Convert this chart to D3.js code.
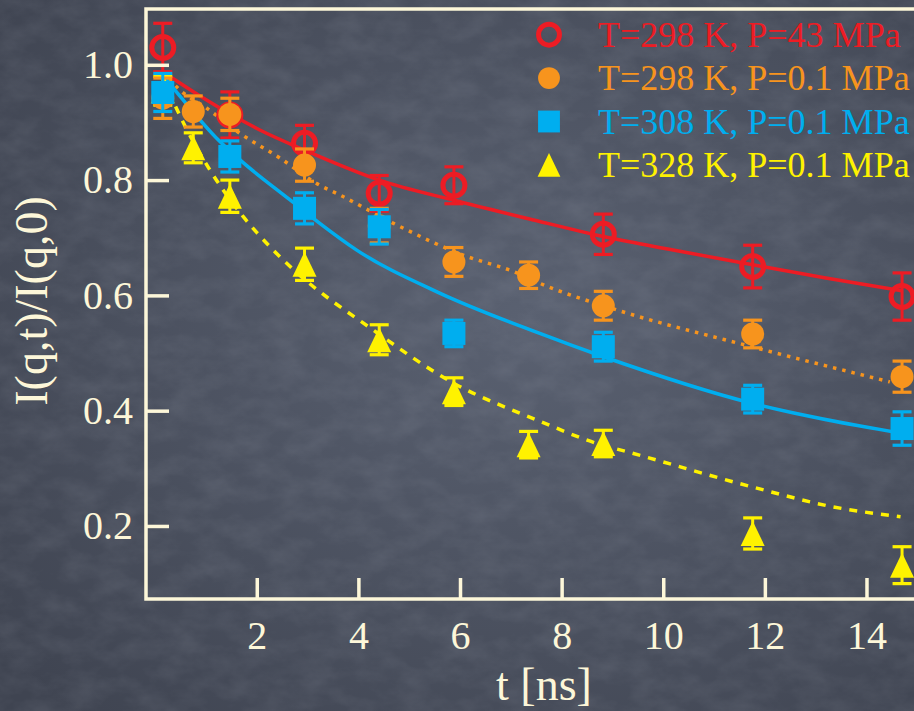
<!DOCTYPE html>
<html lang="en">

<head>
    <meta charset="UTF-8">
    <title>Intermediate scattering function</title>
    <style>
        body { margin: 0; background: #4c5260; }
        svg { display: block; }
    </style>
</head>

<body>
    <svg width="914" height="711"></svg>
    <script src="https://d3js.org/d3.v7.min.js"></script>
    <script>

        // measured times [ns]
        let times = [0.15, 0.75, 1.47, 2.94, 4.41, 5.88, 7.35, 8.82, 11.76, 14.7];

        // I(q,t)/I(q,0) and error, null = no point at that time
        let redVals = [1.03, null, 0.913, 0.864, 0.777, 0.791, null, 0.706, 0.650, 0.598];
        let redErr = [0.042, null, 0.040, 0.031, 0.031, 0.032, null, 0.035, 0.037, 0.041];
        let orangeVals = [0.942, 0.919, 0.914, 0.826, 0.721, 0.658, 0.635, 0.582, 0.533, 0.459];
        let orangeErr = [0.035, 0.027, 0.028, 0.028, 0.030, 0.025, 0.023, 0.025, 0.024, 0.027];
        let blueVals = [0.952, null, 0.841, 0.751, 0.719, 0.534, null, 0.511, 0.420, 0.369];
        let blueErr = [0.033, null, 0.027, 0.027, 0.030, 0.023, null, 0.025, 0.024, 0.029];
        let yellowVals = [0.955, 0.856, 0.772, 0.654, 0.523, 0.433, 0.341, 0.343, 0.187, 0.132];
        let yellowErr = [0.025, 0.026, 0.028, 0.028, 0.026, 0.024, 0.023, 0.023, 0.027, 0.032];

        // fit curves [t, value]
        let redFit = [[0.15, 0.988], [0.9, 0.945], [1.47, 0.915], [2.06, 0.887], [2.94, 0.852], [4.41, 0.800],
            [5.88, 0.765], [7.35, 0.733], [8.82, 0.702], [10.3, 0.677], [11.76, 0.653], [13.2, 0.630], [14.7, 0.608]];
        let orangeFit = [[0.15, 0.988], [0.49, 0.956], [1.01, 0.925], [1.67, 0.881], [2.46, 0.838], [3.18, 0.794],
            [3.64, 0.774], [4.69, 0.725], [6.06, 0.670], [7.12, 0.639], [7.57, 0.621], [9.08, 0.575],
            [11.74, 0.511], [14.46, 0.450]];
        let blueFit = [[0.15, 0.982], [0.55, 0.939], [1.24, 0.870], [1.67, 0.835], [2.65, 0.766], [3.24, 0.725],
            [3.96, 0.679], [5.60, 0.604], [7.57, 0.534], [8.81, 0.494], [11.74, 0.413], [14.68, 0.361]];
        let yellowFit = [[0.15, 0.979], [0.48, 0.913], [1.04, 0.823], [1.73, 0.737], [2.32, 0.679], [2.72, 0.645],
            [4.29, 0.540], [5.87, 0.448], [7.51, 0.384], [8.81, 0.340], [9.15, 0.332], [11.74, 0.268],
            [13.35, 0.233], [14.67, 0.216]];

        let legendLabels = ["T=298 K, P=43 MPa", "T=298 K, P=0.1 MPa", "T=308 K, P=0.1 MPa", "T=328 K, P=0.1 MPa"];
        let xTicks = [2, 4, 6, 8, 10, 12, 14];
        let yTicks = [0.2, 0.4, 0.6, 0.8, 1.0];


        let svg = d3.select("svg"),
            cream = "#fdf7d9",
            serif = "'Liberation Serif', 'Times New Roman', serif";

        let x = d3.scaleLinear().domain([-0.18, 15.25]).range([146, 930]);
        let y = d3.scaleLinear().domain([0.0733, 1.0968]).range([599, 9]);

        // chalkboard background
        let defs = svg.append("defs");
        let grad = defs.append("radialGradient").attr("id", "vig")
            .attr("cx", "58%").attr("cy", "45%").attr("r", "75%");
        grad.append("stop").attr("offset", "0%").attr("stop-color", "#5a6171");
        grad.append("stop").attr("offset", "100%").attr("stop-color", "#3f4451");
        let filt = defs.append("filter").attr("id", "chalk").attr("x", 0).attr("y", 0).attr("width", "100%").attr("height", "100%");
        filt.append("feTurbulence").attr("type", "fractalNoise").attr("baseFrequency", "0.03 0.05")
            .attr("numOctaves", 4).attr("seed", 7);
        filt.append("feColorMatrix").attr("type", "matrix")
            .attr("values", "0 0 0 0 0.55  0 0 0 0 0.58  0 0 0 0 0.65  0.9 0 0 0 -0.3");

        svg.append("rect").attr("width", 914).attr("height", 711).attr("fill", "url(#vig)");
        svg.append("rect").attr("width", 914).attr("height", 711).attr("filter", "url(#chalk)").attr("opacity", 0.2);

        // series setup
        let series = [
            { vals: redVals, err: redErr, fit: redFit, color: "#ed1c24", sym: "ring", dash: null },
            { vals: orangeVals, err: orangeErr, fit: orangeFit, color: "#f7941d", sym: "dot", dash: "3.5,6" },
            { vals: blueVals, err: blueErr, fit: blueFit, color: "#00aeef", sym: "square", dash: null },
            { vals: yellowVals, err: yellowErr, fit: yellowFit, color: "#fff200", sym: "tri", dash: "8,8" }
        ];

        function drawSymbol(g, kind, color, cx, cy, scale) {
            scale = scale || 1;
            if (kind == "ring") {
                g.append("circle").attr("cx", cx).attr("cy", cy).attr("r", 11 * scale)
                    .attr("fill", "none").attr("stroke", color).attr("stroke-width", 5);
            } else if (kind == "dot") {
                g.append("circle").attr("cx", cx).attr("cy", cy).attr("r", 11.5 * scale).attr("fill", color);
            } else if (kind == "square") {
                let s = 23 * scale;
                g.append("rect").attr("x", cx - s / 2).attr("y", cy - s / 2)
                    .attr("width", s).attr("height", s).attr("fill", color);
            } else {
                let w = 24 * scale, h = 25 * scale;
                g.append("path").attr("fill", color)
                    .attr("d", d3.line()([[cx, cy - h / 2], [cx + w / 2, cy + h / 2], [cx - w / 2, cy + h / 2]]) + "Z");
            }
        }

        let line = d3.line()
            .x(d => x(d[0]))
            .y(d => y(d[1]))
            .curve(d3.curveMonotoneX);

        // fit curves
        series.forEach(s => {
            svg.append("path")
                .datum(s.fit)
                .attr("fill", "none")
                .attr("stroke", s.color)
                .attr("stroke-width", 3.5)
                .attr("stroke-dasharray", s.dash)
                .attr("d", line);
        });

        // points with error bars, yellow drawn first
        [3, 0, 1, 2].forEach(i => {
            let s = series[i];
            let g = svg.append("g");
            times.forEach((t, j) => {
                let v = s.vals[j];
                if (v == null) return;
                let cx = x(t), e = s.err[j];
                g.append("line").attr("x1", cx).attr("x2", cx)
                    .attr("y1", y(v - e)).attr("y2", y(v + e))
                    .attr("stroke", s.color).attr("stroke-width", 3);
                [v - e, v + e].forEach(c => {
                    g.append("line").attr("x1", cx - 9.5).attr("x2", cx + 9.5)
                        .attr("y1", y(c)).attr("y2", y(c))
                        .attr("stroke", s.color).attr("stroke-width", 3.2);
                });
                drawSymbol(g, s.sym, s.color, cx, y(v));
            });
        });

        // frame
        svg.append("path")
            .attr("d", "M" + x.range()[1] + "," + y.range()[1] + "H" + x.range()[0] + "V" + y.range()[0] + "H" + x.range()[1])
            .attr("fill", "none").attr("stroke", cream).attr("stroke-width", 3.5);

        // axes, ticks point inward
        let xAxis = svg.append("g")
            .attr("transform", "translate(0," + y.range()[0] + ")")
            .call(d3.axisBottom(x).tickValues(xTicks).tickSizeInner(-21).tickSizeOuter(0).tickPadding(30));
        let yAxis = svg.append("g")
            .attr("transform", "translate(" + x.range()[0] + ",0)")
            .call(d3.axisLeft(y).tickValues(yTicks).tickFormat(d3.format(".1f")).tickSizeInner(-23).tickSizeOuter(0).tickPadding(13));

        [xAxis, yAxis].forEach(a => {
            a.select(".domain").remove();
            a.selectAll(".tick line").attr("stroke", cream).attr("stroke-width", 3.5);
            a.selectAll(".tick text").attr("fill", cream).style("font-family", serif).style("font-size", "40px");
        });
        xAxis.selectAll(".tick text").attr("dy", "0.71em").attr("y", 22);

        // axis titles
        svg.append("text")
            .attr("x", 544).attr("y", 700)
            .attr("text-anchor", "middle")
            .attr("fill", cream)
            .style("font-family", serif).style("font-size", "46px")
            .text("t [ns]");
        svg.append("text")
            .attr("transform", "translate(47,301) rotate(-90)")
            .attr("text-anchor", "middle")
            .attr("fill", cream)
            .style("font-family", serif).style("font-size", "46px")
            .text("I(q,t)/I(q,0)");

        // legend
        let leg = svg.append("g");
        series.forEach((s, i) => {
            let base = 46.7 + i * 43.4;
            drawSymbol(leg, s.sym, s.color, 549, base - 12, 0.95);
            leg.append("text")
                .attr("x", 598).attr("y", base)
                .attr("fill", s.color)
                .style("font-family", serif).style("font-size", "36px")
                .text(legendLabels[i]);
        });

    </script>

</body>

</html>
